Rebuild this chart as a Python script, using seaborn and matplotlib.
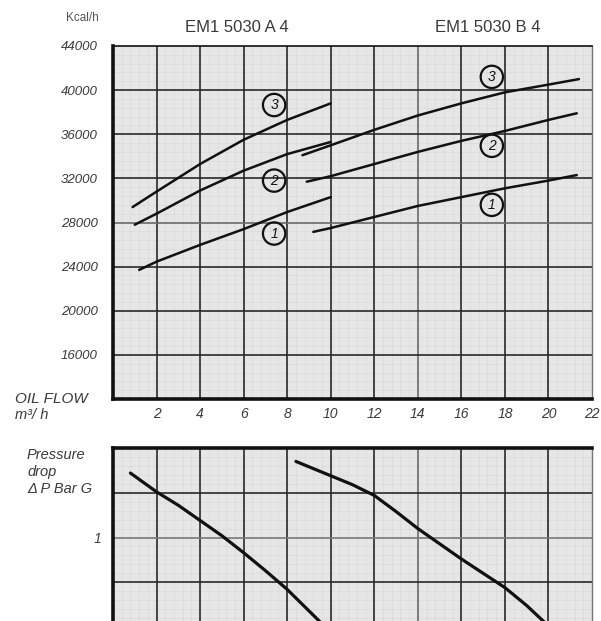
import matplotlib
matplotlib.use("Agg")
import matplotlib.pyplot as plt
import seaborn as sns
import pandas as pd
import numpy as np

sns.set_theme(style="white")
plt.rcParams['font.family'] = ['Liberation Sans', 'DejaVu Sans']

# ---- data ----
# Output (Kcal/h) vs oil flow (m3/h)
a1_x = [1.2, 2.0, 4.0, 6.0, 8.0, 10.0]
a1_y = [23700, 24450, 25970, 27400, 28950, 30300]
a2_x = [1.0, 2.0, 4.0, 6.0, 8.0, 10.0]
a2_y = [27800, 28800, 30900, 32700, 34200, 35300]
a3_x = [0.9, 2.0, 4.0, 6.0, 8.0, 10.0]
a3_y = [29400, 30800, 33300, 35500, 37300, 38800]
b1_x = [9.2, 10.0, 12.0, 14.0, 16.0, 18.0, 20.0, 21.3]
b1_y = [27150, 27500, 28500, 29500, 30300, 31100, 31800, 32300]
b2_x = [8.9, 10.0, 12.0, 14.0, 16.0, 18.0, 20.0, 21.3]
b2_y = [31700, 32200, 33300, 34400, 35400, 36300, 37300, 37900]
b3_x = [8.7, 10.0, 12.0, 14.0, 16.0, 18.0, 20.0, 21.4]
b3_y = [34100, 35000, 36400, 37700, 38800, 39800, 40500, 41000]

# Pressure drop (bar) vs oil flow
pa_x = [0.8, 2.0, 3.0, 4.0, 5.0, 6.0, 7.0, 8.0, 9.0, 9.5, 10.0]
pa_y = [0.28, 0.49, 0.64, 0.81, 0.98, 1.17, 1.37, 1.58, 1.82, 1.94, 2.07]
pb_x = [8.4, 9.0, 10.0, 11.0, 12.0, 13.0, 14.0, 15.0, 16.0, 17.0, 18.0, 19.0, 19.7, 20.3]
pb_y = [0.15, 0.21, 0.31, 0.41, 0.53, 0.71, 0.90, 1.07, 1.24, 1.40, 1.56, 1.76, 1.92, 2.05]

circle_labels = ["1", "2", "3", "1", "2", "3"]
circle_x = [7.4, 7.4, 7.4, 17.4, 17.4, 17.4]
circle_y = [27000, 31800, 38650, 29600, 34950, 41200]

x_ticks = [2, 4, 6, 8, 10, 12, 14, 16, 18, 20, 22]
y_ticks = [16000, 20000, 24000, 28000, 32000, 36000, 40000, 44000]
p_ticks = [1, 2]

titles = ["EM1 5030 A 4", "EM1 5030 B 4"]

# ---- figure ----
W, H = 601, 621
fig = plt.figure(figsize=(W / 100, H / 100), dpi=100)
fig.patch.set_facecolor("white")

def fx(px):
    return px / W

def fy(py):
    return 1 - py / H

ax1 = fig.add_axes([fx(113), fy(399), fx(592) - fx(113), fy(46) - fy(399)])
# bottom axis: y=0 at px 448, 89.5 px per bar, ylim 0..2.5
bot_px = 448 + 2.5 * 89.5
ax2 = fig.add_axes([fx(113), fy(bot_px), fx(592) - fx(113), fy(448) - fy(bot_px)])

bg = "#e6e6e6"
gridc = "#2a2a2a"
textc = "#3a3a3a"

for ax in (ax1, ax2):
    ax.set_facecolor(bg)
    ax.set_xlim(0, 22)
    ax.tick_params(length=0)

# fine "graph paper" lines
for ax, ymin, ymax, step in ((ax1, 12000, 44000, 800), (ax2, 0, 2.5, 0.1)):
    for xv in np.arange(0, 22.01, 0.4):
        ax.axvline(xv, color="#d6d6d6", lw=0.4, zorder=0.5)
    for yv in np.arange(ymin, ymax + 1e-9, step):
        ax.axhline(yv, color="#d6d6d6", lw=0.4, zorder=0.5)

# major grid
for xv in range(2, 22, 2):
    c = "#6a6a6a" if xv == 14 else gridc
    ax1.axvline(xv, color=c, lw=1.2, zorder=1)
    ax2.axvline(xv, color=c, lw=1.2, zorder=1)
for yv in range(16000, 44000, 4000):
    c = "#6a6a6a" if yv in (28000,) else gridc
    ax1.axhline(yv, color=c, lw=1.2, zorder=1)
for yv in (0.5, 1.0, 1.5, 2.0):
    c = "#7a7a7a" if yv == 1.0 else gridc
    ax2.axhline(yv, color=c, lw=1.2, zorder=1)

# curves
curves = [(a1_x, a1_y), (a2_x, a2_y), (a3_x, a3_y), (b1_x, b1_y), (b2_x, b2_y), (b3_x, b3_y)]
for cx, cy in curves:
    df = pd.DataFrame({"flow": cx, "kcal": cy})
    sns.lineplot(data=df, x="flow", y="kcal", ax=ax1, color="#111111", lw=1.8, zorder=3)

for cx, cy in ((pa_x, pa_y), (pb_x, pb_y)):
    df = pd.DataFrame({"flow": cx, "dp": cy})
    sns.lineplot(data=df, x="flow", y="dp", ax=ax2, color="#111111", lw=2.3, zorder=3)

ax1.set_ylim(12000, 44000)
ax2.set_ylim(2.5, 0)
ax1.set_xlim(0, 22)
ax2.set_xlim(0, 22)
for ax in (ax1, ax2):
    ax.set_xlabel("")
    ax.set_ylabel("")

# circled labels
for lab, cx, cy in zip(circle_labels, circle_x, circle_y):
    ax1.text(cx, cy, lab, ha="center", va="center", fontsize=10, style="italic",
             color="#111111", zorder=5,
             bbox=dict(boxstyle="circle,pad=0.3", fc="none", ec="#111111", lw=1.6))

# ticks
ax1.set_xticks(x_ticks)
ax1.set_xticklabels([str(t) for t in x_ticks], style="italic", fontsize=10, color=textc)
ax1.tick_params(axis="x", pad=6)
ax1.set_yticks(y_ticks)
ax1.set_yticklabels([str(t) for t in y_ticks], style="italic", fontsize=9.5, color=textc)
ax1.tick_params(axis="y", pad=11)

ax2.set_xticks([])
ax2.set_yticks(p_ticks)
ax2.set_yticklabels([str(t) for t in p_ticks], style="italic", fontsize=10, color=textc)
ax2.tick_params(axis="y", pad=8)

# spines
for sp in ax1.spines.values():
    sp.set_visible(True)
ax1.spines["left"].set_linewidth(2.6)
ax1.spines["bottom"].set_linewidth(2.6)
ax1.spines["top"].set_linewidth(1.2)
ax1.spines["right"].set_linewidth(1.0)
ax1.spines["right"].set_color("#777777")
for s in ("left", "bottom", "top"):
    ax1.spines[s].set_color("#111111")

for sp in ax2.spines.values():
    sp.set_visible(True)
ax2.spines["left"].set_linewidth(2.6)
ax2.spines["top"].set_linewidth(2.6)
ax2.spines["right"].set_linewidth(1.0)
ax2.spines["right"].set_color("#777777")
ax2.spines["bottom"].set_visible(False)
for s in ("left", "top"):
    ax2.spines[s].set_color("#111111")

# texts
fig.text(fx(82), fy(18), "Kcal/h", ha="center", va="center", fontsize=8.5, color="#555555")
fig.text(fx(237), fy(27), titles[0], ha="center", va="center", fontsize=12, color=textc)
fig.text(fx(488), fy(27), titles[1], ha="center", va="center", fontsize=12, color=textc)
fig.text(fx(15), fy(399), "OIL FLOW", ha="left", va="center", fontsize=11, style="italic", color=textc)
fig.text(fx(15), fy(415), "m\u00b3/ h", ha="left", va="center", fontsize=10.5, style="italic", color=textc)
fig.text(fx(27), fy(472), "Pressure\ndrop\n\u0394 P Bar G", ha="left", va="center", fontsize=10.5,
         style="italic", color=textc, linespacing=1.3)

fig.savefig("out.png", dpi=100, facecolor="white")
